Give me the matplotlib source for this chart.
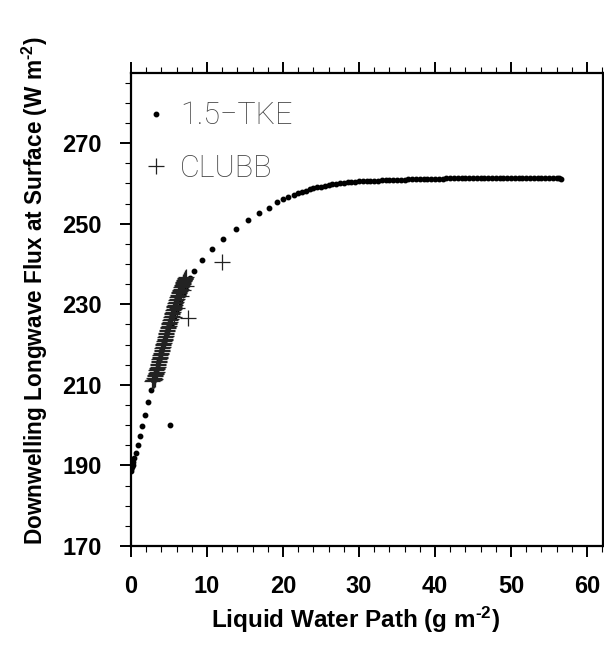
import numpy as np
import matplotlib
matplotlib.use('Agg')
import matplotlib.pyplot as plt
from matplotlib.ticker import MultipleLocator

plt.rcParams['font.family'] = ['Liberation Sans', 'DejaVu Sans']
plt.rcParams['mathtext.fontset'] = 'custom'
plt.rcParams['mathtext.rm'] = 'Liberation Sans:bold'
plt.rcParams['mathtext.default'] = 'rm'

# 1.5-TKE run: liquid water path (g m-2) vs downwelling LW flux (W m-2)
tke_lwp = [0.00, 0.05, 0.12, 0.20, 0.30, 0.45, 0.66, 0.92, 1.20, 1.50, 1.84, 2.28, 2.60,
           2.95, 3.30, 3.65, 4.00, 4.40, 4.80, 5.13, 5.20, 5.60, 6.00, 6.40, 6.85, 7.30, 7.80,
           8.33, 9.30, 10.70, 12.10, 13.80, 15.40, 16.90, 18.20, 19.20, 20.00, 20.70,
           21.40, 22.00, 22.50, 23.00, 23.50,
           24.0, 24.5, 25.0, 25.5, 26.0, 26.5, 27.0, 27.5, 28.0, 28.5, 29.0, 29.5,
           30.0, 30.5, 31.0, 31.5, 32.0, 32.5, 33.0, 33.5, 34.0, 34.5, 35.0, 35.5,
           36.0, 36.5, 37.0, 37.5, 38.0, 38.5, 39.0, 39.5, 40.0, 40.5, 41.0, 41.5,
           42.0, 42.5, 43.0, 43.5, 44.0, 44.5, 45.0, 45.5, 46.0, 46.5, 47.0, 47.5,
           48.0, 48.5, 49.0, 49.5, 50.0, 50.5, 51.0, 51.5, 52.0, 52.5, 53.0, 53.5,
           54.0, 54.5, 55.0, 55.5, 56.0, 56.3, 56.6]
tke_flx = [188.7, 189.2, 189.6, 190.2, 190.8, 191.8, 193.2, 195.0, 197.3, 199.8, 202.5, 205.7, 208.6,
           211.3, 213.8, 216.1, 218.3, 220.6, 222.8, 200.0, 224.9, 226.9, 228.8, 230.6, 232.6, 234.5, 236.4,
           238.3, 241.0, 243.6, 246.1, 248.6, 250.9, 252.7, 254.0, 255.3, 256.1, 256.7,
           257.2, 257.6, 257.9, 258.2, 258.5,
           258.8, 259.0, 259.2, 259.4, 259.6, 259.75, 259.9, 260.05, 260.2, 260.3, 260.4, 260.45,
           260.5, 260.55, 260.6, 260.65, 260.7, 260.72, 260.75, 260.78, 260.8, 260.83, 260.86, 260.9,
           260.95, 260.98, 261.0, 261.03, 261.05, 261.08, 261.1, 261.12, 261.15, 261.17, 261.2, 261.22,
           261.24, 261.26, 261.28, 261.3, 261.3, 261.32, 261.34, 261.35, 261.36, 261.38, 261.39, 261.4,
           261.4, 261.4, 261.4, 261.42, 261.42, 261.42, 261.4, 261.4, 261.4, 261.4, 261.38, 261.36,
           261.35, 261.33, 261.3, 261.28, 261.25, 261.22, 261.2]

# CLUBB run
clubb_lwp = [2.80, 2.95, 3.10, 3.05, 3.15, 3.25, 3.35, 3.42, 3.52, 3.62, 3.72, 3.82, 3.92,
             4.02, 4.12, 4.22, 4.32, 4.42, 4.52, 4.62, 4.72, 4.83, 4.94, 5.05, 5.16, 5.27,
             5.38, 5.49, 5.60, 5.71, 5.82, 5.93, 6.05, 6.18, 6.31, 6.45, 6.58, 6.72, 6.84,
             6.96, 7.08, 7.20, 6.60, 6.90, 7.30, 5.60, 6.10,
             2.90, 3.00, 3.20, 3.28, 3.40, 3.45, 3.55, 3.60, 3.70, 3.75, 3.85, 3.95, 4.05,
             4.15, 4.25, 4.35, 4.45, 4.55, 4.65, 4.80, 4.90, 5.00, 5.10, 5.22, 5.33, 5.45,
             5.55, 5.65, 5.78, 5.88, 6.00, 6.12, 6.25, 6.38, 6.52, 6.65, 6.78, 6.90, 7.02,
             7.15, 7.50, 12.0]
clubb_flx = [211.0, 211.2, 211.4, 211.8, 212.4, 213.0, 213.6, 214.2, 214.9, 215.6, 216.3, 217.0, 217.7,
             218.4, 219.1, 219.8, 220.5, 221.2, 221.9, 222.6, 223.3, 224.0, 224.7, 225.4, 226.1, 226.8,
             227.5, 228.2, 228.9, 229.6, 230.3, 231.0, 231.7, 232.4, 233.0, 233.6, 234.2, 234.8, 235.3,
             235.8, 236.3, 236.8, 232.0, 233.5, 234.6, 226.8, 229.0,
             211.1, 211.3, 212.1, 212.7, 213.3, 213.9, 214.5, 215.2, 215.9, 216.6, 217.3, 218.0, 218.7,
             219.4, 220.1, 220.8, 221.5, 222.2, 222.9, 223.6, 224.3, 225.0, 225.7, 226.4, 227.1, 227.8,
             228.5, 229.2, 229.9, 230.6, 231.3, 232.0, 232.7, 233.3, 233.9, 234.5, 235.0, 235.5, 236.0,
             236.5, 226.5, 240.5]

fig = plt.figure(figsize=(6.04, 6.45), dpi=100)
ax = fig.add_axes([0.2169, 0.1535, 0.7815, 0.7333])

ax.plot(tke_lwp, tke_flx, linestyle='none', marker='o', ms=3.2, color='black',
        mec='black', label='1.5\u2212TKE')
ax.plot(clubb_lwp, clubb_flx, linestyle='none', marker='+', ms=12, mew=0.9,
        color='#222222', label='CLUBB')

ax.set_xlim(0, 62.1)
ax.set_ylim(170, 287.4)
ax.xaxis.set_major_locator(MultipleLocator(10))
ax.xaxis.set_minor_locator(MultipleLocator(2))
ax.set_yticks(np.arange(170, 281, 20))
ax.yaxis.set_minor_locator(MultipleLocator(5))

ax.tick_params(which='both', direction='out', top=True, right=True)
ax.tick_params(which='major', length=8, width=1.4, labelsize=17, pad=13)
ax.tick_params(which='minor', length=4.3, width=0.8)
for lab in ax.get_xticklabels() + ax.get_yticklabels():
    lab.set_fontweight('bold')
for sp in ax.spines.values():
    sp.set_linewidth(1.6)

ax.set_xlabel(r'Liquid Water Path (g m$^{\text{-}2}$)', fontsize=17.5, fontweight='bold')
ax.xaxis.set_label_coords(0.475, -0.125)
ax.set_ylabel(r'Downwelling Longwave Flux at Surface (W m$^{\text{-}2}$)', fontsize=16.3,
              fontweight='bold')
ax.yaxis.set_label_coords(-0.172, 0.54)

leg = ax.legend(loc='upper left', bbox_to_anchor=(0.02, 0.953), frameon=False,
                handlelength=0.6, handletextpad=0.5, labelspacing=0.78,
                borderaxespad=0, borderpad=0.2,
                prop={'family': 'Roboto', 'weight': 'light', 'size': 22})
for t in leg.get_texts():
    t.set_color('#444444')

fig.savefig('out.png', dpi=100)
